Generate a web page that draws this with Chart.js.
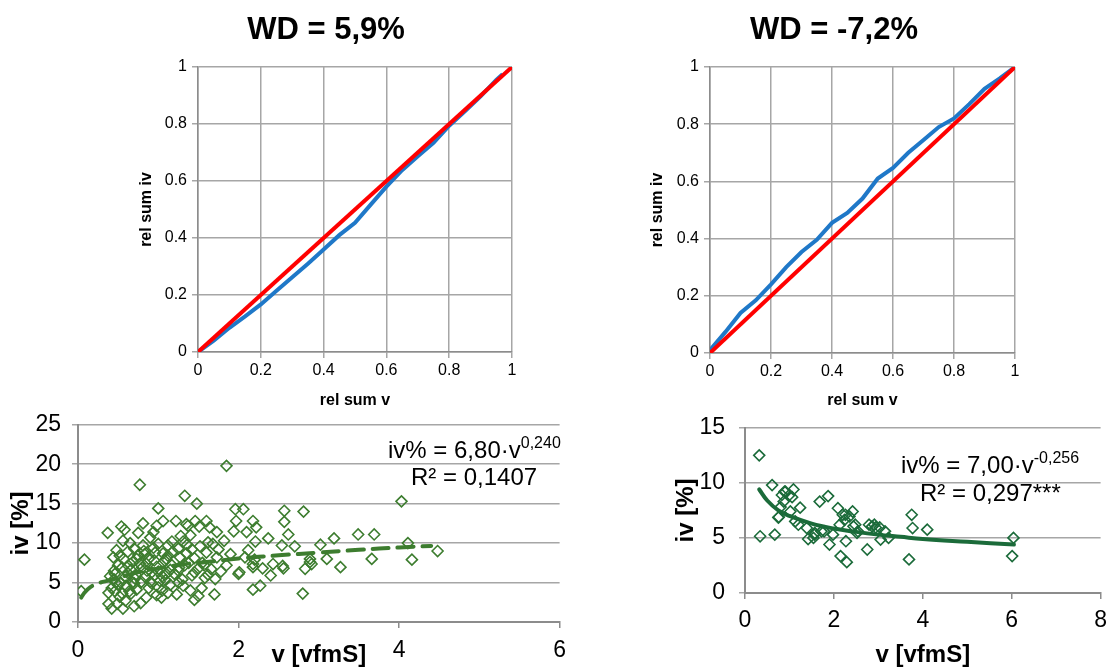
<!DOCTYPE html>
<html>
<head>
<meta charset="utf-8">
<script src="https://cdn.jsdelivr.net/npm/chart.js@4.4.1/dist/chart.umd.min.js"></script>
<style>
  body { margin: 0; background: #fff; }
  #wrap { position: relative; width: 1115px; height: 670px; overflow: hidden; font-family: "Liberation Sans", Arial, sans-serif; }
  canvas { position: absolute; }
  .eq { position: absolute; font-size: 24px; line-height: 24px; color: #000; white-space: nowrap; }
  .eq .sup { font-size: 16px; position: relative; top: -10px; }
</style>
</head>
<body>
<div id="wrap">
  <canvas id="c1" width="410" height="410" style="left:120px;top:0px"></canvas>
  <canvas id="c2" width="405" height="410" style="left:630px;top:0px"></canvas>
  <canvas id="c3" width="575" height="270" style="left:0px;top:400px"></canvas>
  <canvas id="c4" width="455" height="270" style="left:660px;top:400px"></canvas>
  <div class="eq" style="left:388px;top:438px">iv% = 6,80·v<span class="sup">0,240</span></div>
  <div class="eq" style="left:411px;top:465px">R² = 0,1407</div>
  <div class="eq" style="left:901px;top:453px">iv% = 7,00·v<span class="sup">-0,256</span></div>
  <div class="eq" style="left:920px;top:481px">R² = 0,297***</div>
</div>
<script>
const FONT = '"Liberation Sans", Arial, sans-serif';
const GRID = '#a6a6a6';
const AXIS = '#8c8c8c';

// top charts: relative cumulative sums
const diagX = [0, 1];
const diagY = [0, 1];
const relX = [0, 0.05, 0.1, 0.15, 0.2, 0.25, 0.3, 0.35, 0.4, 0.45, 0.5, 0.55, 0.6, 0.65, 0.7, 0.75, 0.8, 0.85, 0.9, 0.95, 0.97];
const leftRel = [0, 0.04, 0.085, 0.125, 0.167, 0.215, 0.262, 0.31, 0.36, 0.41, 0.453, 0.517, 0.58, 0.638, 0.687, 0.734, 0.794, 0.845, 0.897, 0.955, 0.975];
const relX2 = [0, 0.05, 0.1, 0.15, 0.2, 0.25, 0.3, 0.35, 0.4, 0.45, 0.5, 0.55, 0.6, 0.65, 0.7, 0.75, 0.8, 0.85, 0.9, 0.95, 1];
const rightRel = [0.01, 0.073, 0.14, 0.184, 0.24, 0.3, 0.353, 0.396, 0.455, 0.49, 0.54, 0.61, 0.647, 0.7, 0.745, 0.79, 0.82, 0.87, 0.924, 0.96, 1];
const axisTicks01 = [0, 0.2, 0.4, 0.6, 0.8, 1];

// bottom left: iv vs v (WD = 5,9%)
const leftV = [0.77,1.0,1.06,0.98,0.81,0.75,0.54,0.58,0.37,0.08,0.04,0.94,0.56,0.65,0.81,0.94,0.96,0.48,0.44,0.52,0.73,0.88,1.06,1.08,0.5,0.63,0.86,0.98,1.1,0.59,0.71,0.79,0.9,1.02,0.5,0.38,0.46,0.73,0.88,0.98,1.04,0.38,0.42,0.49,0.59,0.56,0.78,0.52,0.42,
  1.33,1.48,1.22,1.35,1.46,1.6,1.51,1.64,1.73,1.82,1.96,2.06,1.97,1.94,2.1,2.18,2.22,2.37,2.57,2.57,2.62,2.81,3.02,3.19,3.49,2.8,2.18,2.27,2.55,2.4,2.3,2.18,2.01,2.89,3.1,3.27,
  1.85,1.37,1.17,1.31,1.62,2.21,1.25,1.42,1.75,2.12,1.12,1.27,1.73,2.08,2.2,1.17,1.33,1.5,1.66,1.85,2.18,1.2,1.42,1.58,1.71,2.0,1.15,1.31,1.54,1.23,1.5,1.45,1.7,
  4.03,3.69,2.54,2.7,4.11,4.48,3.66,4.16,2.89,2.91,2.83,2.56,2.43,
  0.45,0.55,0.62,0.68,0.72,0.8,0.85,0.92,0.95,1.0,1.05,1.1,1.15,0.6,0.66,0.7,0.84,0.92,1.0,0.45,0.4,0.53,0.75,0.82,1.25,1.3,1.38,1.45,1.55,1.6,1.35,1.4,1.25,1.12,1.05,
  0.46,0.62,0.68,0.7,0.77,0.83,0.9,1.0,1.12,1.18,1.28,1.36,1.4,1.45,1.52,1.57,1.62,1.68,1.78,1.9,1.26,1.09,0.95,0.66,0.57,0.47,0.55,0.64,0.7,0.85];
const leftIv = [17.4,14.4,12.8,12.2,12.5,11.3,12.1,11.7,11.3,7.9,3.9,11.4,10.3,10.0,9.7,9.4,8.8,9.1,8.2,8.4,8.0,8.0,8.7,7.8,7.2,7.1,6.5,7.0,6.1,5.7,5.5,5.1,5.1,5.2,4.7,3.7,3.9,4.1,4.3,3.4,3.1,2.3,1.7,2.3,2.7,1.7,2.4,3.2,4.3,
  16.0,15.0,12.8,12.4,12.8,12.8,12.1,12.0,11.4,10.3,14.3,14.3,12.8,11.5,11.4,12.8,12.0,10.6,14.1,12.7,11.1,14.0,9.8,10.6,11.1,3.6,4.1,4.6,7.1,5.9,6.8,7.35,6.3,7.6,8.0,6.95,
  19.8,12.2,10.2,10.2,10.1,10.2,9.3,9.2,9.2,9.1,8.4,8.2,8.2,8.2,7.9,7.2,7.2,6.8,6.7,7.2,6.95,6.1,5.9,5.6,5.45,6.1,4.7,4.6,4.3,3.5,3.3,2.8,3.5,
  15.3,11.1,9.7,9.6,10.0,9.0,8.0,7.9,8.0,7.35,6.75,6.8,7.35,
  6.5,6.9,6.2,7.6,6.0,6.9,7.4,6.3,7.8,6.4,5.8,8.0,6.6,4.6,3.6,4.9,5.7,4.9,4.4,5.4,5.8,5.0,8.5,9.0,6.5,5.4,7.5,6.3,7.5,8.8,8.7,4.0,5.0,3.7,4.0,
  6.1,8.9,5.0,9.3,7.4,8.6,10.7,9.9,9.7,8.9,10.9,9.8,11.0,8.1,9.6,7.2,6.0,9.9,6.4,8.6,6.9,5.3,5.9,6.6,8.0,5.0,3.6,3.9,2.0,3.1];
const leftTrendV = [0.04, 0.08, 0.15, 0.25, 0.4, 0.6, 0.8, 1.0, 1.3, 1.6, 2.0, 2.5, 3.0, 3.5, 4.0, 4.4];
const leftTrendIv = [3.1, 3.7, 4.4, 4.9, 5.3, 5.9, 6.45, 6.8, 7.3, 7.6, 8.05, 8.45, 8.8, 9.15, 9.45, 9.65];

// bottom right: iv vs v (WD = -7,2%)
const rightV = [0.32,0.34,0.61,0.67,0.75,0.83,0.91,0.87,0.80,1.02,1.09,1.06,1.13,1.24,1.2,1.39,1.42,1.54,1.57,1.68,1.72,1.87,1.9,1.98,2.09,2.13,2.15,2.2,2.24,2.27,2.29,2.35,2.42,2.44,2.52,2.75,2.79,2.86,2.94,3.03,3.05,3.23,3.69,3.75,3.77,4.1,6.04,6.01,
  0.89,1.0,0.76,1.56,1.78,2.26,2.48,2.54,2.91,3.15];
const rightIv = [12.5,5.15,9.8,5.3,6.85,8.9,9.2,8.3,7.8,7.4,9.4,8.7,6.5,7.75,6.2,5.9,4.9,5.0,5.45,8.3,5.6,8.8,4.4,5.3,7.7,6.2,3.35,7.1,6.65,4.7,2.8,6.95,7.4,6.05,5.45,3.95,6.2,6.05,5.95,5.95,4.85,5.0,3.05,7.1,5.9,5.75,5.0,3.35,
  9.2,8.9,6.9,5.3,5.6,7.1,6.2,5.6,6.2,5.6];
const rightTrendV = [0.32, 0.5, 0.75, 1.0, 1.5, 2.0, 2.5, 3.0, 3.5, 4.0, 5.0, 6.05];
const rightTrendIv = [9.4, 8.4, 7.5, 7.0, 6.3, 5.85, 5.55, 5.3, 5.1, 4.9, 4.65, 4.4];

function pts(xs, ys) {
  return xs.map((x, i) => ({ x: x, y: ys[i] }));
}

function makeCurveChart(id, title, xs, ys, opt) {
  const axisTitle = (text, pad) => ({ display: true, text: text, color: '#000', font: { family: FONT, size: 16, weight: 'bold' }, padding: { top: pad, bottom: 0 } });
  const tickFont = { family: FONT, size: 16 };
  const fmt = v => String(+v.toFixed(1));
  return new Chart(document.getElementById(id), {
    type: 'scatter',
    data: {
      datasets: [
        { data: pts(diagX, diagY), showLine: true, borderColor: '#ff0000', borderWidth: 4, pointRadius: 0 },
        { data: pts(xs, ys), showLine: true, borderColor: '#1f78c8', borderWidth: 4, pointRadius: 0 }
      ]
    },
    options: {
      responsive: false,
      animation: false,
      layout: { padding: { left: opt.left, right: opt.right } },
      plugins: {
        legend: { display: false },
        tooltip: { enabled: false },
        title: { display: true, text: title, color: '#000', font: { family: FONT, size: 31, weight: 'bold' }, padding: { top: 11.4, bottom: 18.4 } }
      },
      scales: {
        x: {
          type: 'linear', min: 0, max: 1,
          afterBuildTicks: s => { s.ticks = axisTicks01.map(v => ({ value: v })); },
          ticks: { font: tickFont, color: '#000', padding: 3, maxRotation: 0, callback: fmt },
          grid: { color: GRID, lineWidth: 1.5, tickLength: 6 },
          border: { color: AXIS, width: 1.5 },
          title: axisTitle('rel sum v', 3),
          afterFit: s => { s.height = opt.xh; }
        },
        y: {
          type: 'linear', min: 0, max: 1,
          afterBuildTicks: s => { s.ticks = axisTicks01.map(v => ({ value: v })); },
          ticks: { font: tickFont, color: '#000', padding: 5, callback: fmt },
          grid: { color: GRID, lineWidth: 1.5, tickLength: 6 },
          border: { color: AXIS, width: 1.5 },
          title: axisTitle('rel sum iv', opt.ytp),
          afterFit: s => { s.width = opt.yw; }
        }
      }
    }
  });
}

function makeScatterChart(id, xs, ys, tx, ty, opt) {
  const tickFont = { family: FONT, size: 23 };
  const axisTitle = (text, pad) => ({ display: true, text: text, color: '#000', font: { family: FONT, size: 24, weight: 'bold' }, padding: { top: pad, bottom: 0 } });
  return new Chart(document.getElementById(id), {
    type: 'scatter',
    data: {
      datasets: [
        { data: pts(xs, ys), pointStyle: 'rectRot', pointRadius: 5.5, pointBorderWidth: 1.6, pointBorderColor: opt.color, pointBackgroundColor: 'rgba(255,255,255,0)' },
        { type: 'line', data: pts(tx, ty), borderColor: opt.trendColor, borderWidth: 4, pointRadius: 0, borderDash: opt.dash, borderCapStyle: 'round', tension: 0.4 }
      ]
    },
    options: {
      responsive: false,
      animation: false,
      layout: { padding: { top: opt.top, right: opt.right } },
      plugins: { legend: { display: false }, tooltip: { enabled: false } },
      scales: {
        x: {
          type: 'linear', min: 0, max: opt.xmax,
          ticks: { stepSize: 2, font: tickFont, color: '#000', padding: opt.xpad, maxRotation: 0 },
          grid: { drawOnChartArea: false, color: AXIS, lineWidth: 1.5, tickLength: 6 },
          border: { color: AXIS, width: 2 },
          title: axisTitle('v [vfmS]', 0),
          afterFit: s => { s.height = opt.xh; }
        },
        y: {
          type: 'linear', min: 0, max: opt.ymax,
          ticks: { stepSize: 5, font: tickFont, color: '#000', padding: opt.ypad },
          grid: { color: GRID, lineWidth: 1.5, tickLength: 6 },
          border: { color: AXIS, width: 2 },
          title: axisTitle('iv [%]', opt.ytp),
          afterFit: s => { s.width = opt.yw; }
        }
      }
    }
  });
}

makeCurveChart('c1', 'WD = 5,9%', relX, leftRel, { left: 20, right: 18, xh: 58, yw: 58, ytp: -3 });
makeCurveChart('c2', 'WD = -7,2%', relX2, rightRel, { left: 23, right: 20, xh: 57, yw: 57, ytp: -5 });
makeScatterChart('c3', leftV, leftIv, leftTrendV, leftTrendIv,
  { color: '#3d7d2f', trendColor: '#3d7d2f', dash: [16, 9], top: 17, right: 15, xmax: 6, ymax: 25, xh: 48, yw: 78, xpad: 9, ypad: 11, ytp: 7 });
makeScatterChart('c4', rightV, rightIv, rightTrendV, rightTrendIv,
  { color: '#1b6b3a', trendColor: '#1b6b3a', dash: [], top: 25, right: 9, xmax: 8, ymax: 15, xh: 77, yw: 85, xpad: 8, ypad: 14, ytp: 12 });
</script>
</body>
</html>
